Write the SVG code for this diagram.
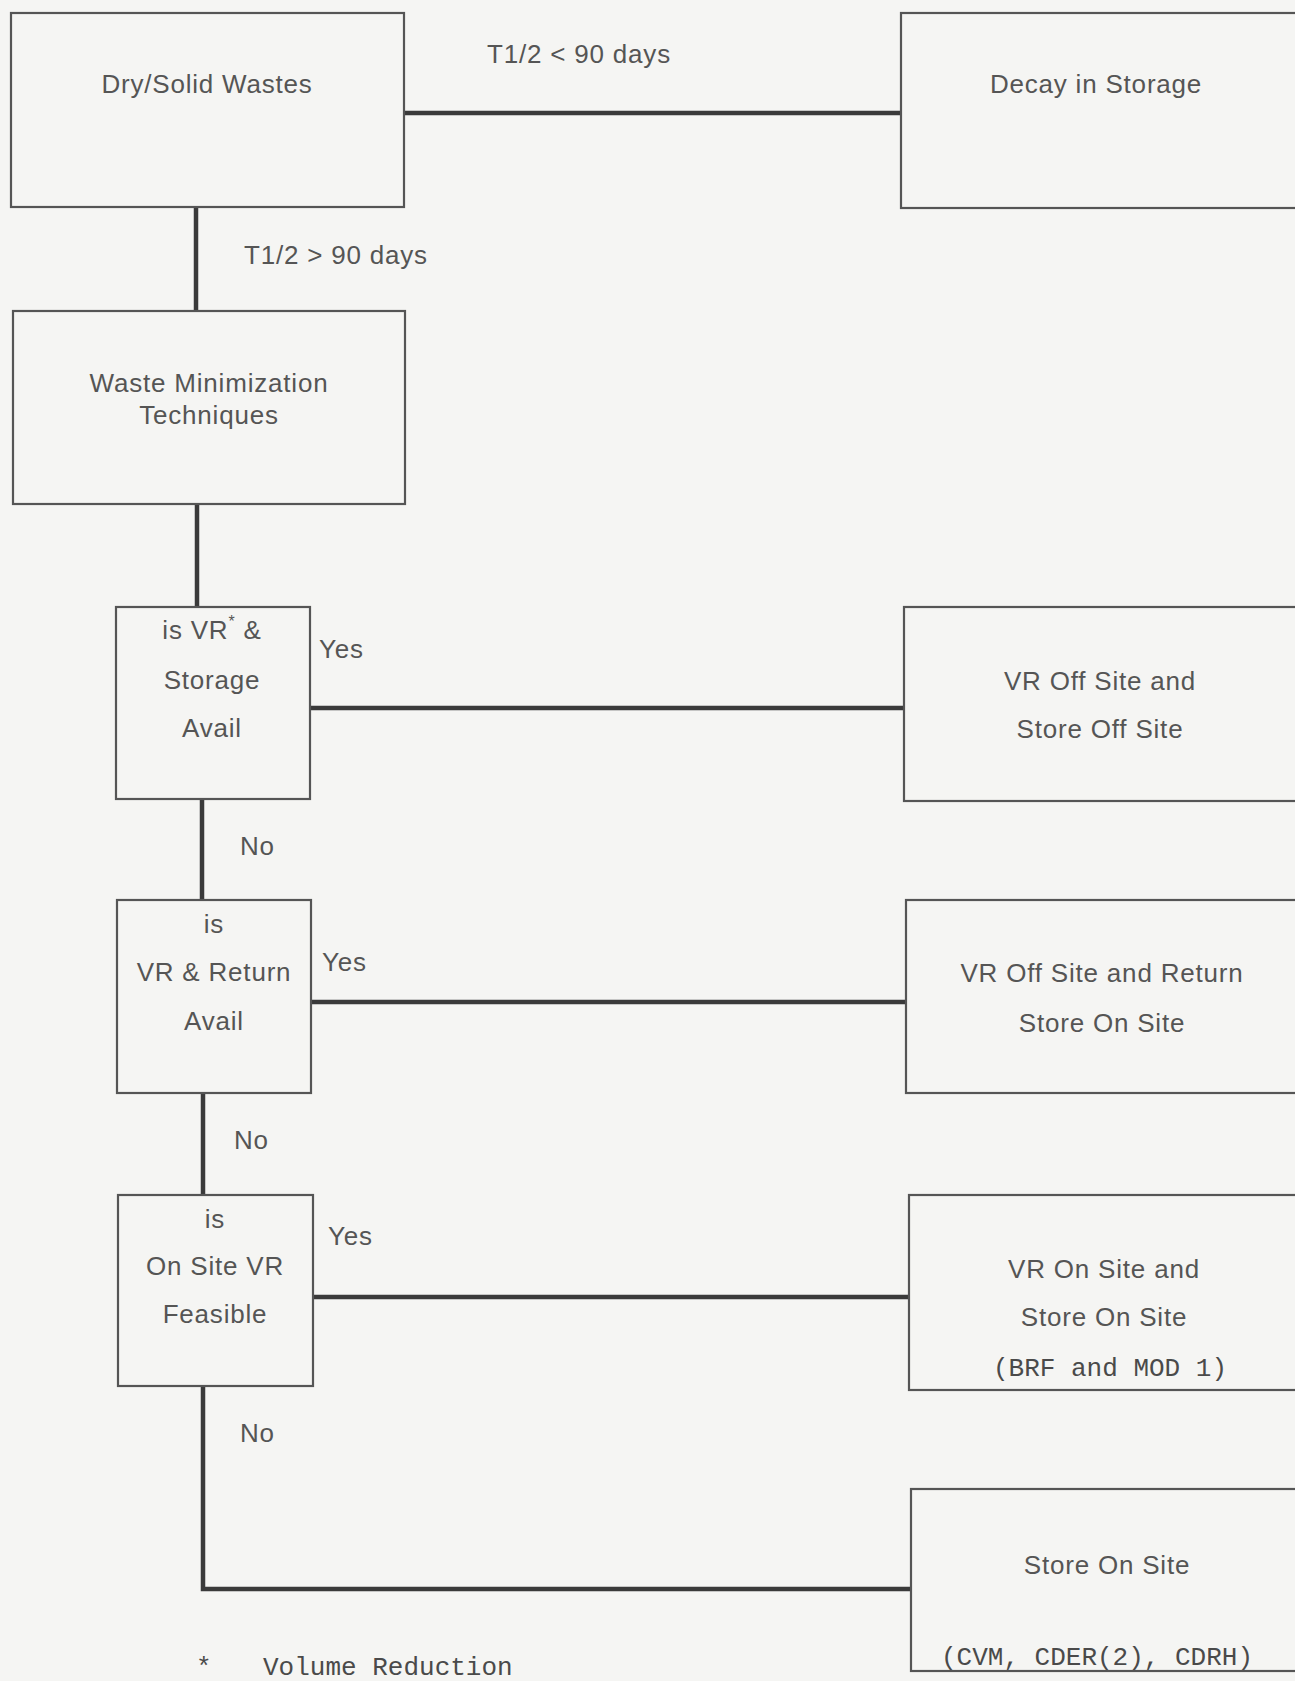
<svg xmlns="http://www.w3.org/2000/svg" width="1295" height="1681" viewBox="0 0 1295 1681">
<style>
.box{fill:none;stroke:#555;stroke-width:2.2}
.con{fill:none;stroke:#3a3a3a;stroke-width:4.5}
.t{font-family:"Liberation Sans",Arial,sans-serif;font-size:26px;letter-spacing:0.8px;fill:#555}
.c{text-anchor:middle}
.m{font-family:"Liberation Mono","Courier New",monospace;font-size:26px;fill:#4a4a4a}
</style>
<rect width="1295" height="1681" fill="#f5f5f3"/>
<g id="connectors">
<line class="con" x1="404" y1="113" x2="901" y2="113"/>
<line class="con" x1="196" y1="207" x2="196" y2="311"/>
<line class="con" x1="197" y1="504" x2="197" y2="607"/>
<line class="con" x1="310" y1="708" x2="904" y2="708"/>
<line class="con" x1="202" y1="799" x2="202" y2="900"/>
<line class="con" x1="311" y1="1002" x2="906" y2="1002"/>
<line class="con" x1="203" y1="1093" x2="203" y2="1195"/>
<line class="con" x1="313" y1="1297" x2="909" y2="1297"/>
<path class="con" d="M203 1386 V1589 H911"/>
<text class="t c" x="579" y="63">T1/2 &lt; 90 days</text>
<text class="t" x="244" y="264">T1/2 &gt; 90 days</text>
<text class="t" x="319" y="658">Yes</text>
<text class="t" x="240" y="855">No</text>
<text class="t" x="322" y="971">Yes</text>
<text class="t" x="234" y="1149">No</text>
<text class="t" x="328" y="1245">Yes</text>
<text class="t" x="240" y="1442">No</text>
</g>
<g id="dry-solid-wastes">
<rect class="box" x="11" y="13" width="393" height="194"/>
<text class="t c" x="207" y="93">Dry/Solid Wastes</text>
</g>
<g id="decay-in-storage">
<rect class="box" x="901" y="13" width="420" height="195"/>
<text class="t c" x="1096" y="93">Decay in Storage</text>
</g>
<g id="waste-minimization">
<rect class="box" x="13" y="311" width="392" height="193"/>
<text class="t c" x="209" y="392">Waste Minimization</text>
<text class="t c" x="209" y="424">Techniques</text>
</g>
<g id="q-vr-storage">
<rect class="box" x="116" y="607" width="194" height="192"/>
<text class="t c" x="212" y="639">is VR<tspan font-size="16" dy="-12">*</tspan><tspan dy="12"> &amp;</tspan></text>
<text class="t c" x="212" y="689">Storage</text>
<text class="t c" x="212" y="737">Avail</text>
</g>
<g id="vr-off-store-off">
<rect class="box" x="904" y="607" width="400" height="194"/>
<text class="t c" x="1100" y="690">VR Off Site and</text>
<text class="t c" x="1100" y="738">Store Off Site</text>
</g>
<g id="q-vr-return">
<rect class="box" x="117" y="900" width="194" height="193"/>
<text class="t c" x="214" y="933">is</text>
<text class="t c" x="214" y="981">VR &amp; Return</text>
<text class="t c" x="214" y="1030">Avail</text>
</g>
<g id="vr-off-return">
<rect class="box" x="906" y="900" width="400" height="193"/>
<text class="t c" x="1102" y="982">VR Off Site and Return</text>
<text class="t c" x="1102" y="1032">Store On Site</text>
</g>
<g id="q-onsite-vr">
<rect class="box" x="118" y="1195" width="195" height="191"/>
<text class="t c" x="215" y="1228">is</text>
<text class="t c" x="215" y="1275">On Site VR</text>
<text class="t c" x="215" y="1323">Feasible</text>
</g>
<g id="vr-on-store-on">
<rect class="box" x="909" y="1195" width="400" height="195"/>
<text class="t c" x="1104" y="1278">VR On Site and</text>
<text class="t c" x="1104" y="1326">Store On Site</text>
<text class="m c" x="1110" y="1376">(BRF and MOD 1)</text>
</g>
<g id="store-on-site">
<rect class="box" x="911" y="1489" width="400" height="182"/>
<text class="t c" x="1107" y="1574">Store On Site</text>
<text class="m c" x="1097" y="1665">(CVM, CDER(2), CDRH)</text>
</g>
<g id="footnote">
<text class="m" x="196" y="1675">*</text>
<text class="m" x="263" y="1675">Volume Reduction</text>
</g>
</svg>
